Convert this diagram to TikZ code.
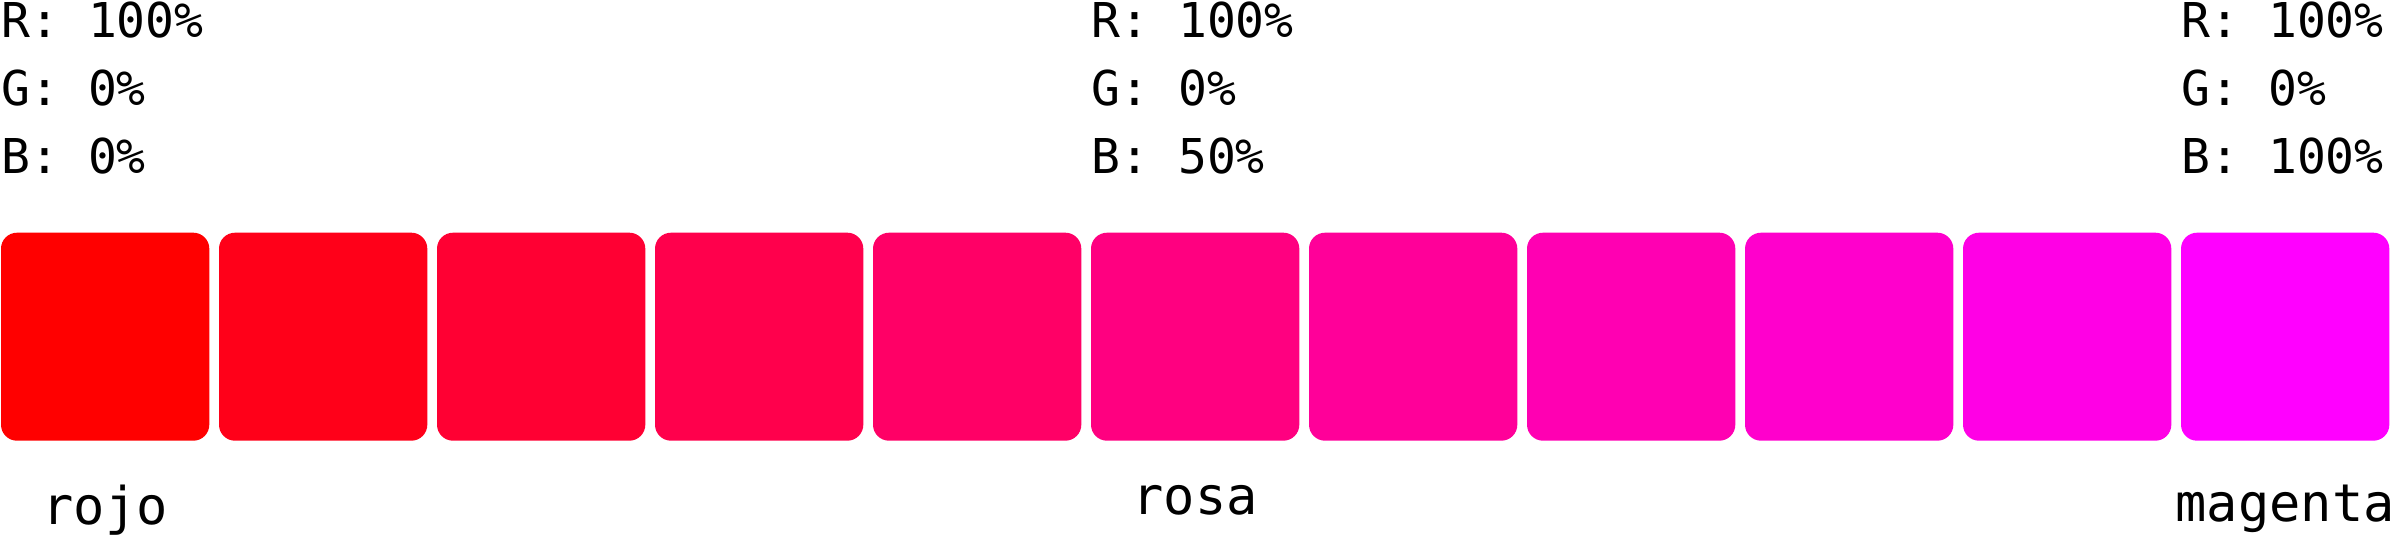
\documentclass[tikz,border=0pt]{standalone}
\usepackage{fontspec}
\setmonofont{DejaVu Sans Mono}
\usetikzlibrary{positioning}
\definecolor{swatchred}{rgb}{1,0,0}
\definecolor{swatchmagenta}{rgb}{1,0,1}
\tikzset{
  swatch/.style={rounded corners=8pt, inner sep=0pt, outer sep=0pt,
    minimum width=104.15pt, minimum height=104pt, anchor=north west},
  rgbtext/.style={font=\ttfamily\fontsize{24}{30}\selectfont,
    anchor=base west, inner sep=0pt},
  colname/.style={font=\ttfamily\fontsize{26}{30}\selectfont, inner sep=0pt},
}
\begin{document}
\begin{tikzpicture}[x=0.5pt,y=-0.5pt]
  \useasboundingbox (0,0) rectangle (2396,540);

  % Swatches from red to magenta
  \foreach \i in {0,...,10}{
    \pgfmathtruncatemacro{\p}{10*\i}
    \node[swatch, fill=swatchmagenta!\p!swatchred] (sq\i) at (1+218*\i,232.7) {};
  }

  % RGB values and names
  \foreach \i/\bv/\name in {0/0/rojo, 5/50/rosa, 10/100/magenta}{
    \node[rgbtext] (r\i) at (1+218*\i,37.5) {R: 100\%};
    \node[rgbtext] (g\i) at (1+218*\i,105.7) {G: 0\%};
    \node[rgbtext] (b\i) at (1+218*\i,173.9) {B: \bv\%};
    \node[colname, below=22.15pt of sq\i] (lab\i) {\name};
  }
\end{tikzpicture}
\end{document}
